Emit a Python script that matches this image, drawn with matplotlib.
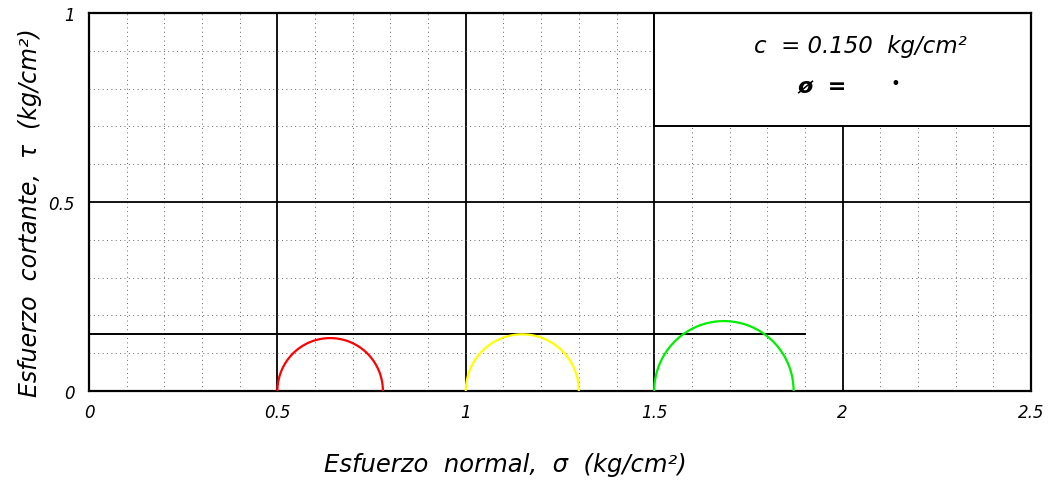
import numpy as np
import matplotlib
matplotlib.use("Agg")
import matplotlib.pyplot as plt
from matplotlib.patches import Rectangle

# Mohr circles: minor and major principal stresses (kg/cm2)
sigma_3 = [0.50, 1.00, 1.50]
sigma_1 = [0.78, 1.30, 1.87]
circle_colors = ["#ff0000", "#ffff00", "#00ee00"]

# Failure envelope parameters
cohesion = 0.150          # kg/cm2
phi_deg = 0.0             # friction angle
envelope_end = 1.90

x_ticks = [0, 0.5, 1, 1.5, 2, 2.5]
x_tick_labels = ["0", "0.5", "1", "1.5", "2", "2.5"]
y_ticks = [0, 0.5, 1]
y_tick_labels = ["0", "0.5", "1"]

plt.rcParams["font.family"] = ["DejaVu Sans"]
plt.rcParams["font.style"] = "italic"

fig = plt.figure(figsize=(10.51, 4.85), dpi=100)
ax = fig.add_axes([89 / 1051, 93 / 485, 942 / 1051, 378 / 485])

ax.set_xlim(0, 2.5)
ax.set_ylim(0, 1)

ax.set_xticks(x_ticks)
ax.set_xticklabels(x_tick_labels, fontsize=12, style="italic")
ax.set_yticks(y_ticks)
ax.set_yticklabels(y_tick_labels, fontsize=12, style="italic")
ax.set_xticks(np.arange(0, 2.5001, 0.1), minor=True)
ax.set_yticks(np.arange(0, 1.0001, 0.1), minor=True)
ax.tick_params(which="both", length=0)
ax.tick_params(axis="x", pad=9)
ax.tick_params(axis="y", pad=10)

ax.set_axisbelow(True)
ax.grid(which="minor", color="#666666", linestyle=(0, (1, 3.5)), linewidth=0.7)
ax.grid(which="major", color="black", linestyle="-", linewidth=1.3)

for sp in ax.spines.values():
    sp.set_linewidth(1.6)
    sp.set_color("black")

# Parameter box in the upper-right corner
box = Rectangle((1.5, 0.7), 1.0, 0.3, facecolor="white", edgecolor="black",
                linewidth=1.4, zorder=1.5)
ax.add_patch(box)

# Failure envelope (horizontal, phi = 0)
xe = np.array([0.0, envelope_end])
ax.plot(xe, cohesion + np.tan(np.radians(phi_deg)) * xe, color="black",
        linewidth=1.4, zorder=3)

# Mohr circles (upper halves)
theta = np.linspace(0, np.pi, 200)
for s3, s1, col in zip(sigma_3, sigma_1, circle_colors):
    c = (s1 + s3) / 2
    r = (s1 - s3) / 2
    ax.plot(c + r * np.cos(theta), r * np.sin(theta), color=col,
            linewidth=1.6, zorder=4)

ax.text(2.046, 0.913, f"c  = {cohesion:.3f}  kg/cm²", fontsize=16.5,
        ha="center", va="center", style="italic")
ax.text(1.945, 0.807, "ø  =", fontsize=16, ha="center", va="center",
        style="italic", fontweight="bold")
ax.text(2.14, 0.815, "•", fontsize=12, ha="center", va="center")

fig.text(505 / 1051, 1 - 465 / 485, "Esfuerzo  normal,  σ  (kg/cm²)",
         fontsize=17.5, ha="center", va="center", style="italic")
fig.text(30 / 1051, 1 - 213 / 485, "Esfuerzo  cortante,  τ  (kg/cm²)",
         fontsize=17, ha="center", va="center", style="italic", rotation=90)

fig.savefig("out.png", dpi=100)
